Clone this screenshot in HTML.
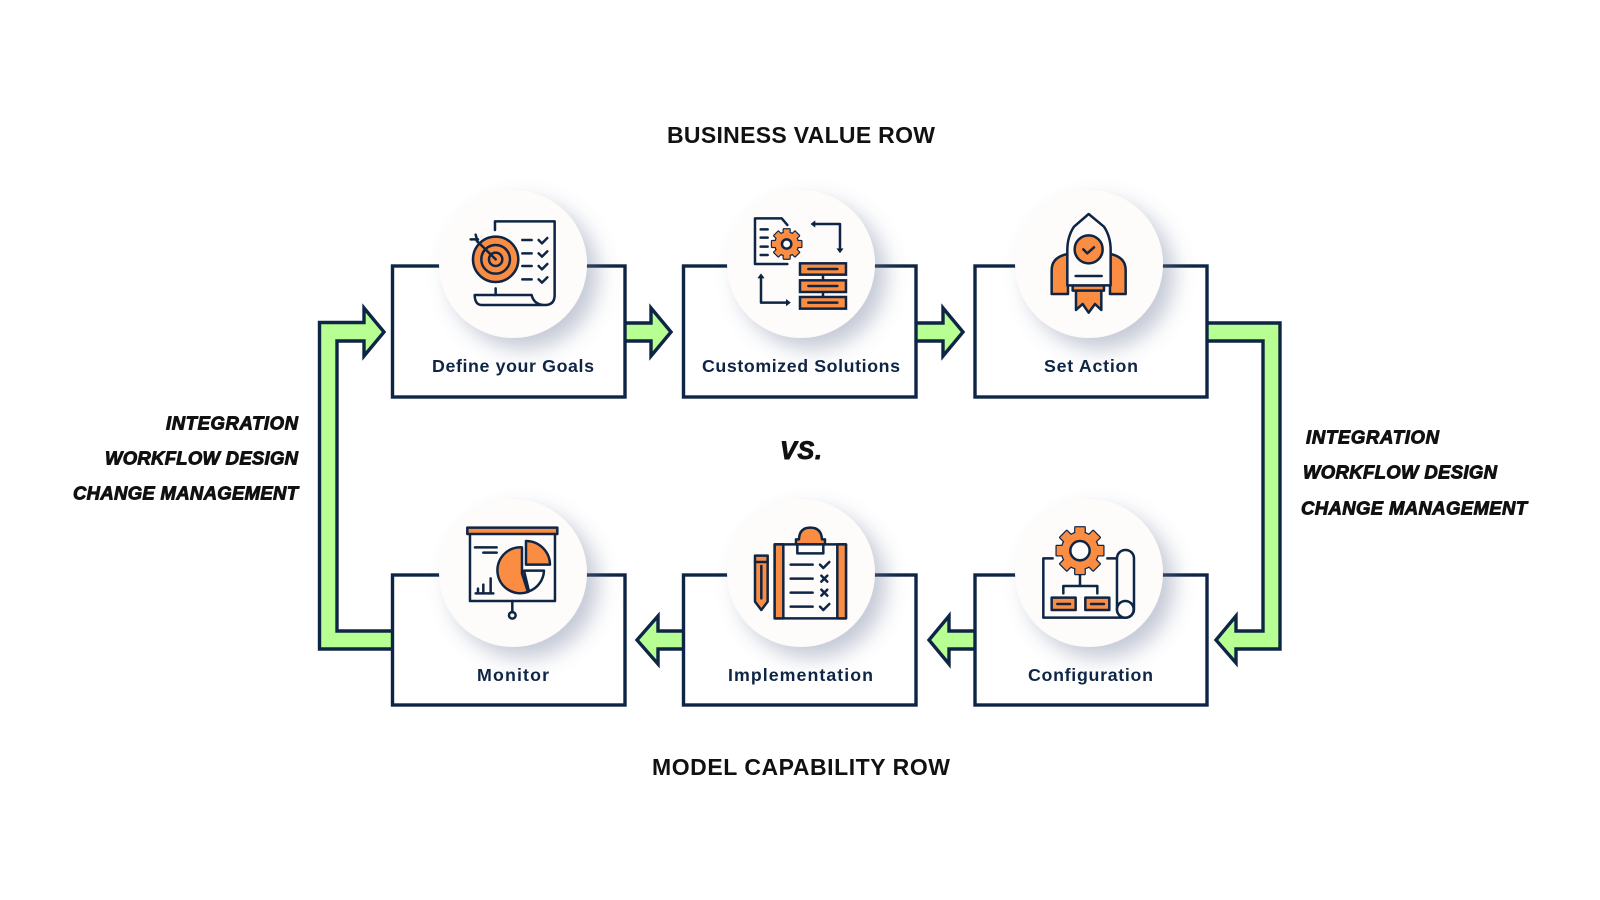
<!DOCTYPE html>
<html lang="en">
<head>
<meta charset="utf-8">
<title>Business Value Row vs. Model Capability Row</title>
<style>
html,body{margin:0;padding:0;background:#fff;width:1600px;height:900px;overflow:hidden}
svg{display:block}
.lbl{font:700 17.8px "Liberation Sans",sans-serif;fill:#0e2545}
.ttl{font:700 23px "Liberation Sans",sans-serif;fill:#111}
.hw{font:italic 700 18.5px "Liberation Sans",sans-serif;fill:#111;stroke:#111;stroke-width:.9;stroke-linejoin:round}
.arrow{fill:#b7ff93;stroke:#0e2545;stroke-width:3.4;stroke-linejoin:miter}
.box{fill:#fff;stroke:#0e2545;stroke-width:3.4}
.circ{fill:#fdfcfa;filter:url(#sh)}
.ic{fill:none;stroke:#0e2545;stroke-width:7.5;stroke-linejoin:round;stroke-linecap:round}
.o{fill:#fb8d42}
.w{fill:#fdfcfa}
</style>
</head>
<body>
<svg width="1600" height="900" viewBox="0 0 1600 900" xmlns="http://www.w3.org/2000/svg">
<defs>
<filter id="sh" x="-40%" y="-40%" width="190%" height="190%">
<feGaussianBlur in="SourceAlpha" stdDeviation="11"/>
<feOffset dx="11" dy="11"/>
<feComponentTransfer><feFuncA type="linear" slope=".42"/></feComponentTransfer>
<feColorMatrix type="matrix" values="0 0 0 0 .16 0 0 0 0 .2 0 0 0 0 .32 0 0 0 1 0"/>
<feMerge><feMergeNode/><feMergeNode in="SourceGraphic"/></feMerge>
</filter>
<g id="gear">
<circle r="78"/>
<rect x="-20" y="-100" width="40" height="40"/>
<rect x="-20" y="-100" width="40" height="40" transform="rotate(45)"/>
<rect x="-20" y="-100" width="40" height="40" transform="rotate(90)"/>
<rect x="-20" y="-100" width="40" height="40" transform="rotate(135)"/>
<rect x="-20" y="-100" width="40" height="40" transform="rotate(180)"/>
<rect x="-20" y="-100" width="40" height="40" transform="rotate(225)"/>
<rect x="-20" y="-100" width="40" height="40" transform="rotate(270)"/>
<rect x="-20" y="-100" width="40" height="40" transform="rotate(315)"/>
</g>
</defs>
<rect width="1600" height="900" fill="#fff"/>

<!-- arrows -->
<polygon class="arrow" points="400,649 319.5,649 319.5,322.5 364,322.5 364,308 384,332 364,356 364,341 337,341 337,631 400,631"/>
<polygon class="arrow" points="1198,323 1280,323 1280,649 1236,649 1236,663 1216,640 1236,616 1236,631 1263,631 1263,341 1198,341"/>
<polygon class="arrow" points="610,323 651,323 651,308 671,332 651,356 651,341 610,341"/>
<polygon class="arrow" points="905,323 943,323 943,308 963,332 943,356 943,341 905,341"/>
<polygon class="arrow" points="700,631 658,631 658,616 637,640 658,664 658,649 700,649"/>
<polygon class="arrow" points="990,631 949,631 949,616 929,640 949,664 949,649 990,649"/>

<!-- boxes -->
<rect class="box" x="392.5" y="266" width="232.5" height="131"/>
<rect class="box" x="683.5" y="266" width="232.5" height="131"/>
<rect class="box" x="975" y="266" width="232" height="131"/>
<rect class="box" x="392.5" y="575" width="232.5" height="130"/>
<rect class="box" x="683.5" y="575" width="232.5" height="130"/>
<rect class="box" x="975" y="575" width="232" height="130"/>

<!-- circles -->
<circle class="circ" cx="513" cy="264" r="74"/>
<circle class="circ" cx="801" cy="264" r="74"/>
<circle class="circ" cx="1089" cy="264" r="74"/>
<circle class="circ" cx="513" cy="573" r="74"/>
<circle class="circ" cx="801" cy="573" r="74"/>
<circle class="circ" cx="1089" cy="573" r="74"/>

<!-- icon 1 -->
<g class="ic" transform="translate(300 170) scale(.3333)">
<path d="M585 180V154H764V375Q764 405 735 405H545Q525 405 524 375H695Q702 405 735 405"/>
<path d="M587 355V375"/>
<circle class="o" cx="587" cy="268" r="68"/>
<circle cx="587" cy="268" r="43"/>
<circle cx="587" cy="268" r="20"/>
<path d="M587 268L530 212M512 208H534M527 194L533 216"/>
<path d="M667 210H695M667 250H695M667 288H695M667 328H695"/>
<path d="M716 210l10 10l16-16M716 250l10 10l16-16M716 288l10 10l16-16M716 328l10 10l16-16"/>
</g>

<!-- icon 2 -->
<g class="ic" transform="translate(700 170) scale(.3333)">
<path d="M262 165L245 145H165V282H262"/>
<path d="M182 178H203M182 203H203M182 230H203M182 255H203"/>
<use href="#gear" transform="translate(260 222) scale(.44)" fill="#fb8d42" stroke="#0e2545" stroke-width="16"/>
<use href="#gear" transform="translate(260 222) scale(.44)" fill="#fb8d42" stroke="none"/>
<circle class="w" cx="260" cy="222" r="14"/>
<path d="M338 162H420V240"/>
<path d="M183 320V398H262"/>
<path d="M333 162l12-9v18zM420 248l-9-12h18zM183 312l-9 12h18zM271 398l-12-9v18z" fill="#0e2545" stroke-width="2"/>
<path d="M369 314V330M369 366V381"/>
<rect class="o" x="300" y="280" width="138" height="34" stroke-linejoin="miter"/>
<rect class="o" x="300" y="331" width="138" height="35" stroke-linejoin="miter"/>
<rect class="o" x="300" y="381" width="138" height="35" stroke-linejoin="miter"/>
<path d="M325 297H412M325 348H412M325 398H412"/>
</g>

<!-- icon 3 -->
<g class="ic" transform="translate(980 170) scale(.3333)">
<path class="o" d="M262 252Q215 262 215 300V372H264V252Z"/>
<path class="o" d="M392 252Q437 262 437 300V372H390V252Z"/>
<path class="o" d="M288 360V420L308 402L326 428L345 402L364 420V360Z"/>
<rect class="o" x="278" y="346" width="94" height="16"/>
<path class="w" d="M326 132L372 170Q392 200 392 240V346H262V240Q262 200 282 170Z"/>
<circle class="o" cx="326" cy="238" r="42"/>
<path d="M310 238l12 12l20-18"/>
<path d="M287 318H365"/>
</g>

<!-- icon 4 -->
<g class="ic" transform="translate(300 490) scale(.3333)">
<path class="w" d="M510 132V333H765V132"/>
<rect class="o" x="502" y="113" width="270" height="19"/>
<path d="M637 333V367"/>
<circle cx="637" cy="376" r="10"/>
<path d="M525 172H590M550 188H590"/>
<path d="M527 310H580M534 310V296M550 310V284M572 310V265"/>
<path class="o" d="M666 172A69 69 0 1 0 684 306L666 250Z"/>
<path class="w" d="M672 242H732A69 69 0 0 1 687 304Z"/>
<path class="o" d="M678 153V224H750A72 72 0 0 0 678 153Z"/>
</g>

<!-- icon 5 -->
<g class="ic" transform="translate(700 490) scale(.3333)">
<rect class="w" x="224" y="163" width="214" height="222"/>
<rect class="o" x="224" y="163" width="26" height="222"/>
<rect class="o" x="412" y="163" width="26" height="222"/>
<path class="o" d="M297 148Q298 113 331 113Q364 113 366 148H375V163H288V148Z"/>
<rect class="w" x="292" y="163" width="78" height="27"/>
<path d="M272 224H338M272 266H338M272 308H338M272 350H338"/>
<path d="M360 224l10 10l18-18M360 350l10 10l18-18"/>
<path d="M364 257l18 18M382 257l-18 18M364 299l18 18M382 299l-18 18"/>
<path class="o" d="M165 197H203V335L184 360L165 335Z"/>
<path d="M165 216H203M184 228V325"/>
</g>

<!-- icon 6 -->
<g class="ic" transform="translate(980 490) scale(.3333)">
<path d="M218 205H190V383H435M382 205H410"/>
<rect class="w" x="411" y="180" width="51" height="203" rx="25"/>
<circle class="w" cx="436" cy="358" r="25"/>
<path d="M300 250V288M250 310V288H352V310"/>
<rect class="o" x="215" y="323" width="72" height="37"/>
<rect class="o" x="316" y="323" width="72" height="37"/>
<path d="M232 342H270M333 342H372"/>
<use href="#gear" transform="translate(300 182) scale(.7)" fill="#fb8d42" stroke="#0e2545" stroke-width="10.5"/>
<use href="#gear" transform="translate(300 182) scale(.7)" fill="#fb8d42" stroke="none"/>
<circle class="w" cx="300" cy="182" r="29"/>
</g>

<!-- labels -->
<text class="lbl" x="432" y="372" textLength="162">Define your Goals</text>
<text class="lbl" x="702" y="372" textLength="198">Customized Solutions</text>
<text class="lbl" x="1044" y="372" textLength="94">Set Action</text>
<text class="lbl" x="477" y="681" textLength="72">Monitor</text>
<text class="lbl" x="728" y="681" textLength="145">Implementation</text>
<text class="lbl" x="1028" y="681" textLength="125">Configuration</text>

<text class="ttl" x="667" y="143" textLength="268">BUSINESS VALUE ROW</text>
<text class="ttl" x="652" y="775" textLength="298">MODEL CAPABILITY ROW</text>

<text class="hw" x="780" y="459" textLength="42" style="font-size:25px">VS.</text>

<text class="hw" x="166" y="429.5" textLength="132">INTEGRATION</text>
<text class="hw" x="105" y="464.5" textLength="193">WORKFLOW DESIGN</text>
<text class="hw" x="73" y="499.5" textLength="225">CHANGE MANAGEMENT</text>
<text class="hw" x="1306" y="443.5" textLength="133">INTEGRATION</text>
<text class="hw" x="1303" y="478.5" textLength="194">WORKFLOW DESIGN</text>
<text class="hw" x="1301" y="514.5" textLength="226">CHANGE MANAGEMENT</text>
</svg>
</body>
</html>
